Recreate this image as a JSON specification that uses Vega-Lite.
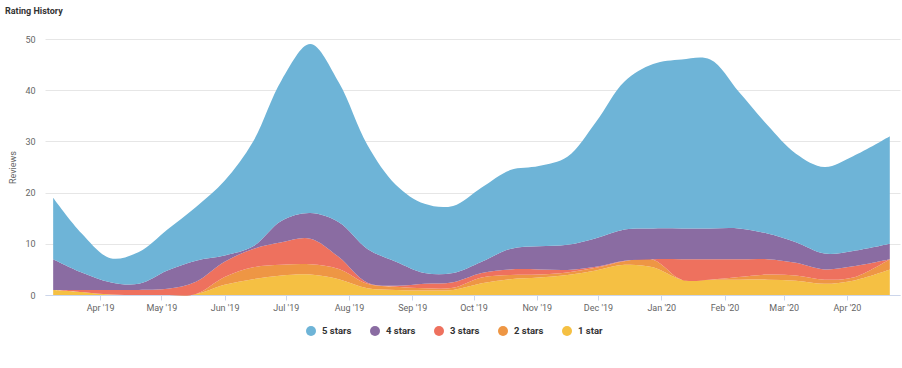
{
  "$schema": "https://vega.github.io/schema/vega-lite/v6.json",
  "width": 855,
  "height": 256,
  "autosize": {"type": "none"},
  "padding": {"left": 45, "top": 39, "right": 2, "bottom": 73},
  "background": "white",
  "title": {"text": "Rating History", "anchor": "start", "frame": "group", "dx": -40, "offset": 19, "fontSize": 9, "fontWeight": "bold", "font": "Roboto", "color": "#333333"},
  "data": {"values": [
    {"d":"2019-03-09","r":"1 star","s":1,"n":1},{"d":"2019-03-09","r":"2 stars","s":2,"n":0},{"d":"2019-03-09","r":"3 stars","s":3,"n":0},{"d":"2019-03-09","r":"4 stars","s":4,"n":6},{"d":"2019-03-09","r":"5 stars","s":5,"n":12},
    {"d":"2019-03-23","r":"1 star","s":1,"n":0.6},{"d":"2019-03-23","r":"2 stars","s":2,"n":0},{"d":"2019-03-23","r":"3 stars","s":3,"n":0.4},{"d":"2019-03-23","r":"4 stars","s":4,"n":3.4},{"d":"2019-03-23","r":"5 stars","s":5,"n":7.6},
    {"d":"2019-04-06","r":"1 star","s":1,"n":0.1},{"d":"2019-04-06","r":"2 stars","s":2,"n":0},{"d":"2019-04-06","r":"3 stars","s":3,"n":0.9},{"d":"2019-04-06","r":"4 stars","s":4,"n":1.5},{"d":"2019-04-06","r":"5 stars","s":5,"n":4.7},
    {"d":"2019-04-20","r":"1 star","s":1,"n":0},{"d":"2019-04-20","r":"2 stars","s":2,"n":0},{"d":"2019-04-20","r":"3 stars","s":3,"n":1},{"d":"2019-04-20","r":"4 stars","s":4,"n":1.2},{"d":"2019-04-20","r":"5 stars","s":5,"n":6.2},
    {"d":"2019-05-04","r":"1 star","s":1,"n":0},{"d":"2019-05-04","r":"2 stars","s":2,"n":0},{"d":"2019-05-04","r":"3 stars","s":3,"n":1.2},{"d":"2019-05-04","r":"4 stars","s":4,"n":3.6},{"d":"2019-05-04","r":"5 stars","s":5,"n":8},
    {"d":"2019-05-18","r":"1 star","s":1,"n":0.2},{"d":"2019-05-18","r":"2 stars","s":2,"n":0},{"d":"2019-05-18","r":"3 stars","s":3,"n":2.4},{"d":"2019-05-18","r":"4 stars","s":4,"n":4.1},{"d":"2019-05-18","r":"5 stars","s":5,"n":10.5},
    {"d":"2019-06-01","r":"1 star","s":1,"n":2},{"d":"2019-06-01","r":"2 stars","s":2,"n":1.5},{"d":"2019-06-01","r":"3 stars","s":3,"n":3},{"d":"2019-06-01","r":"4 stars","s":4,"n":1.2},{"d":"2019-06-01","r":"5 stars","s":5,"n":14.6},
    {"d":"2019-06-15","r":"1 star","s":1,"n":3.1},{"d":"2019-06-15","r":"2 stars","s":2,"n":2.3},{"d":"2019-06-15","r":"3 stars","s":3,"n":3.6},{"d":"2019-06-15","r":"4 stars","s":4,"n":0.5},{"d":"2019-06-15","r":"5 stars","s":5,"n":20.5},
    {"d":"2019-06-29","r":"1 star","s":1,"n":3.8},{"d":"2019-06-29","r":"2 stars","s":2,"n":2.1},{"d":"2019-06-29","r":"3 stars","s":3,"n":4.4},{"d":"2019-06-29","r":"4 stars","s":4,"n":4.2},{"d":"2019-06-29","r":"5 stars","s":5,"n":27.5},
    {"d":"2019-07-13","r":"1 star","s":1,"n":4},{"d":"2019-07-13","r":"2 stars","s":2,"n":2},{"d":"2019-07-13","r":"3 stars","s":3,"n":5},{"d":"2019-07-13","r":"4 stars","s":4,"n":5},{"d":"2019-07-13","r":"5 stars","s":5,"n":33},
    {"d":"2019-07-27","r":"1 star","s":1,"n":3.1},{"d":"2019-07-27","r":"2 stars","s":2,"n":2},{"d":"2019-07-27","r":"3 stars","s":3,"n":2.3},{"d":"2019-07-27","r":"4 stars","s":4,"n":6.8},{"d":"2019-07-27","r":"5 stars","s":5,"n":27.3},
    {"d":"2019-08-10","r":"1 star","s":1,"n":1.3},{"d":"2019-08-10","r":"2 stars","s":2,"n":0.9},{"d":"2019-08-10","r":"3 stars","s":3,"n":0.2},{"d":"2019-08-10","r":"4 stars","s":4,"n":6.6},{"d":"2019-08-10","r":"5 stars","s":5,"n":20.3},
    {"d":"2019-08-24","r":"1 star","s":1,"n":1},{"d":"2019-08-24","r":"2 stars","s":2,"n":0.6},{"d":"2019-08-24","r":"3 stars","s":3,"n":0.2},{"d":"2019-08-24","r":"4 stars","s":4,"n":4.7},{"d":"2019-08-24","r":"5 stars","s":5,"n":15},
    {"d":"2019-09-07","r":"1 star","s":1,"n":0.9},{"d":"2019-09-07","r":"2 stars","s":2,"n":0.4},{"d":"2019-09-07","r":"3 stars","s":3,"n":0.9},{"d":"2019-09-07","r":"4 stars","s":4,"n":2.1},{"d":"2019-09-07","r":"5 stars","s":5,"n":13.5},
    {"d":"2019-09-21","r":"1 star","s":1,"n":1},{"d":"2019-09-21","r":"2 stars","s":2,"n":0.4},{"d":"2019-09-21","r":"3 stars","s":3,"n":1.1},{"d":"2019-09-21","r":"4 stars","s":4,"n":1.8},{"d":"2019-09-21","r":"5 stars","s":5,"n":13.1},
    {"d":"2019-10-05","r":"1 star","s":1,"n":2.3},{"d":"2019-10-05","r":"2 stars","s":2,"n":1.1},{"d":"2019-10-05","r":"3 stars","s":3,"n":0.9},{"d":"2019-10-05","r":"4 stars","s":4,"n":2.2},{"d":"2019-10-05","r":"5 stars","s":5,"n":14.5},
    {"d":"2019-10-19","r":"1 star","s":1,"n":3.1},{"d":"2019-10-19","r":"2 stars","s":2,"n":0.8},{"d":"2019-10-19","r":"3 stars","s":3,"n":1.1},{"d":"2019-10-19","r":"4 stars","s":4,"n":4},{"d":"2019-10-19","r":"5 stars","s":5,"n":15.4},
    {"d":"2019-11-02","r":"1 star","s":1,"n":3.4},{"d":"2019-11-02","r":"2 stars","s":2,"n":0.6},{"d":"2019-11-02","r":"3 stars","s":3,"n":1},{"d":"2019-11-02","r":"4 stars","s":4,"n":4.5},{"d":"2019-11-02","r":"5 stars","s":5,"n":15.7},
    {"d":"2019-11-16","r":"1 star","s":1,"n":3.9},{"d":"2019-11-16","r":"2 stars","s":2,"n":0.5},{"d":"2019-11-16","r":"3 stars","s":3,"n":0.5},{"d":"2019-11-16","r":"4 stars","s":4,"n":4.9},{"d":"2019-11-16","r":"5 stars","s":5,"n":17.2},
    {"d":"2019-11-30","r":"1 star","s":1,"n":4.8},{"d":"2019-11-30","r":"2 stars","s":2,"n":0.5},{"d":"2019-11-30","r":"3 stars","s":3,"n":0.2},{"d":"2019-11-30","r":"4 stars","s":4,"n":5.6},{"d":"2019-11-30","r":"5 stars","s":5,"n":22.7},
    {"d":"2019-12-14","r":"1 star","s":1,"n":5.9},{"d":"2019-12-14","r":"2 stars","s":2,"n":0.7},{"d":"2019-12-14","r":"3 stars","s":3,"n":0.1},{"d":"2019-12-14","r":"4 stars","s":4,"n":6.1},{"d":"2019-12-14","r":"5 stars","s":5,"n":28.9},
    {"d":"2019-12-28","r":"1 star","s":1,"n":5.4},{"d":"2019-12-28","r":"2 stars","s":2,"n":1.5},{"d":"2019-12-28","r":"3 stars","s":3,"n":0.1},{"d":"2019-12-28","r":"4 stars","s":4,"n":6},{"d":"2019-12-28","r":"5 stars","s":5,"n":32.1},
    {"d":"2020-01-11","r":"1 star","s":1,"n":3},{"d":"2020-01-11","r":"2 stars","s":2,"n":0},{"d":"2020-01-11","r":"3 stars","s":3,"n":4},{"d":"2020-01-11","r":"4 stars","s":4,"n":6},{"d":"2020-01-11","r":"5 stars","s":5,"n":33},
    {"d":"2020-01-25","r":"1 star","s":1,"n":3},{"d":"2020-01-25","r":"2 stars","s":2,"n":0},{"d":"2020-01-25","r":"3 stars","s":3,"n":4},{"d":"2020-01-25","r":"4 stars","s":4,"n":6},{"d":"2020-01-25","r":"5 stars","s":5,"n":33},
    {"d":"2020-02-08","r":"1 star","s":1,"n":3},{"d":"2020-02-08","r":"2 stars","s":2,"n":0.5},{"d":"2020-02-08","r":"3 stars","s":3,"n":3.5},{"d":"2020-02-08","r":"4 stars","s":4,"n":6},{"d":"2020-02-08","r":"5 stars","s":5,"n":26.7},
    {"d":"2020-02-22","r":"1 star","s":1,"n":3},{"d":"2020-02-22","r":"2 stars","s":2,"n":1},{"d":"2020-02-22","r":"3 stars","s":3,"n":3},{"d":"2020-02-22","r":"4 stars","s":4,"n":5},{"d":"2020-02-22","r":"5 stars","s":5,"n":21.2},
    {"d":"2020-03-07","r":"1 star","s":1,"n":2.8},{"d":"2020-03-07","r":"2 stars","s":2,"n":1},{"d":"2020-03-07","r":"3 stars","s":3,"n":2.5},{"d":"2020-03-07","r":"4 stars","s":4,"n":4},{"d":"2020-03-07","r":"5 stars","s":5,"n":17.3},
    {"d":"2020-03-21","r":"1 star","s":1,"n":2.2},{"d":"2020-03-21","r":"2 stars","s":2,"n":0.8},{"d":"2020-03-21","r":"3 stars","s":3,"n":2},{"d":"2020-03-21","r":"4 stars","s":4,"n":3.1},{"d":"2020-03-21","r":"5 stars","s":5,"n":16.9},
    {"d":"2020-04-04","r":"1 star","s":1,"n":2.8},{"d":"2020-04-04","r":"2 stars","s":2,"n":0.6},{"d":"2020-04-04","r":"3 stars","s":3,"n":2.2},{"d":"2020-04-04","r":"4 stars","s":4,"n":3},{"d":"2020-04-04","r":"5 stars","s":5,"n":18.5},
    {"d":"2020-04-22","r":"1 star","s":1,"n":5},{"d":"2020-04-22","r":"2 stars","s":2,"n":2},{"d":"2020-04-22","r":"3 stars","s":3,"n":0},{"d":"2020-04-22","r":"4 stars","s":4,"n":3},{"d":"2020-04-22","r":"5 stars","s":5,"n":21}
  ]},
  "mark": {"type": "area", "interpolate": "catmull-rom", "opacity": 1},
  "encoding": {
    "x": {
      "field": "d", "type": "temporal",
      "scale": {"domain": [{"year": 2019, "month": "mar", "date": 5}, {"year": 2020, "month": "apr", "date": 27}]},
      "axis": {"title": null, "format": "%b '%y", "tickCount": {"interval": "month", "step": 1}, "grid": false, "domainColor": "#ccd6eb", "tickColor": "#ccd6eb", "tickSize": 5, "labelPadding": 3, "labelColor": "#666666", "labelFontSize": 9, "labelFont": "Roboto", "labelOverlap": false, "labelFlush": false}
    },
    "y": {
      "field": "n", "type": "quantitative", "stack": "zero",
      "scale": {"domain": [0, 50]},
      "axis": {"title": "Reviews", "values": [0, 10, 20, 30, 40, 50], "grid": true, "gridColor": "#e6e6e6", "domain": false, "ticks": false, "labelPadding": 10, "labelColor": "#666666", "labelFontSize": 9, "labelFont": "Roboto", "titleFont": "Roboto", "titleFontSize": 9, "titleFontWeight": "normal", "titleColor": "#666666", "titleX": -33, "titleY": 128, "titleAngle": -90, "titleAlign": "center", "titleBaseline": "middle"}
    },
    "color": {
      "field": "r", "type": "nominal",
      "scale": {"domain": ["5 stars", "4 stars", "3 stars", "2 stars", "1 star"], "range": ["#6eb4d7", "#8a6ca2", "#ee715e", "#ee9644", "#f5c043"]},
      "legend": {"title": null, "orient": "none", "legendX": 261, "legendY": 287, "direction": "horizontal", "symbolType": "circle", "symbolSize": 100, "symbolStrokeWidth": 0, "labelFontSize": 9.5, "labelFontWeight": "bold", "labelColor": "#333333", "labelFont": "Roboto", "columnPadding": 18, "labelOffset": 6}
    },
    "order": {"field": "s", "type": "quantitative", "sort": "ascending"}
  },
  "config": {"view": {"stroke": null}}
}
